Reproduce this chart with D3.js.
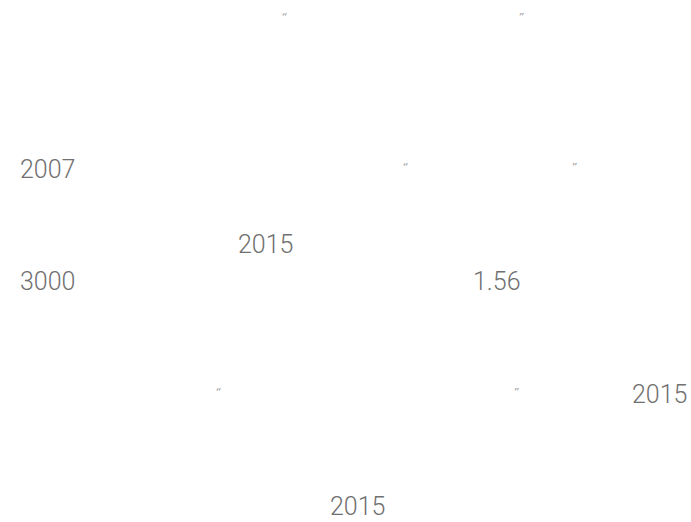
<!DOCTYPE html>
<html>
<head>
<meta charset="utf-8">
<script src="https://cdn.jsdelivr.net/npm/d3@7/dist/d3.min.js"></script>
<style>
  html, body { margin: 0; padding: 0; background: #ffffff; }
  svg { display: block; }
</style>
</head>
<body>
<svg id="chart" width="691" height="522"></svg>
<script>
// Visible text fragments of the reference (CJK glyphs in the original are not rendered)
const fragments = ["“", "”", "2007", "“", "”", "2015", "3000", "1.56", "“", "”", "2015", "2015"];
// Line of the paragraph each fragment sits on
const lineIndex = [0, 0, 4, 4, 4, 6, 7, 7, 10, 10, 10, 13];
// Character-cell column where each fragment starts
const column = [10.44, 19.92, 0, 15.28, 22.04, 8.72, 0, 18.12, 7.8, 19.72, 24.48, 12.4];

const svg = d3.select("#chart");
const W = 691, H = 522;

svg.append("rect").attr("width", W).attr("height", H).attr("fill", "#ffffff");

// line -> baseline y
const y = d3.scaleLinear().domain([4, 13]).range([178, 515]);
// column -> x
const x = d3.scaleLinear().domain([0, 1]).range([20, 45]);

const data = fragments.map((t, i) => ({ t, line: lineIndex[i], col: column[i], quote: /[“”]/.test(t) }));

svg.append("g")
  .selectAll("text")
  .data(data)
  .join("text")
  .attr("x", d => x(d.col))
  .attr("y", d => y(d.line))
  .attr("fill", d => d.quote ? "#9a9a9a" : "#707070")
  .style("font-family", d => d.quote ? "'DejaVu Sans', sans-serif" : "Roboto, 'Noto Sans', sans-serif")
  .style("font-weight", 300)
  .style("font-size", d => d.quote ? "11px" : "25px")
  .style("font-style", d => d.quote ? "italic" : "normal")
  .attr("dy", d => d.quote ? "-7px" : null)
  .text(d => d.t);
</script>
</body>
</html>
